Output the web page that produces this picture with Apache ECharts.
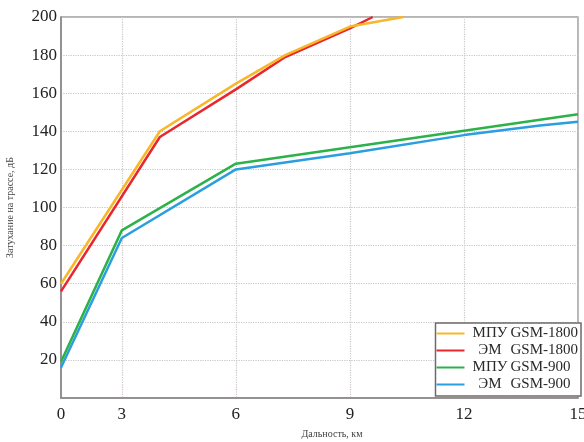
<!DOCTYPE html>
<html>
<head>
<meta charset="utf-8">
<script src="https://cdn.jsdelivr.net/npm/echarts@6/dist/echarts.min.js"></script>
<style>
  html, body { margin: 0; padding: 0; background: #fff; }
  #chart { width: 584px; height: 442px; }
</style>
</head>
<body>
<div id="chart"></div>
<script>
// дальность, км / затухание, дБ
const xTicks = [0, 3, 6, 9, 12, 15]
const yMax = 200

const mpu1800X = [0, 4, 6, 7.3, 9, 10.4]
const mpu1800Y = [60, 140, 165, 180, 195, 200]

const em1800X = [0, 4, 6, 7.3, 9, 9.6]
const em1800Y = [56, 137, 162, 179, 194, 200]

const mpu900X = [0, 3, 6, 15]
const mpu900Y = [19, 88, 123, 149]

const em900X = [0, 3, 6, 9, 12, 14, 15]
const em900Y = [16, 84, 120, 128.5, 138, 143, 145]

const seriesNames = ['МПУ GSM-1800', 'ЭМ GSM-1800', 'МПУ GSM-900', 'ЭМ GSM-900']
const seriesColors = ['#f8b62a', '#e8262b', '#2db24a', '#2a9ee0']

// на исходном графике отрезок 0..3 км сжат — повторяем это
const X0 = 1.4
function warp(km) {
  return km >= 3 ? km : X0 + km * (3 - X0) / 3
}
function pairs(xs, ys) {
  return xs.map((x, i) => [warp(x), ys[i]])
}

const allData = [
  pairs(mpu1800X, mpu1800Y),
  pairs(em1800X, em1800Y),
  pairs(mpu900X, mpu900Y),
  pairs(em900X, em900Y)
]

const serif = '"Liberation Serif", "DejaVu Serif", serif'
const tickPos = xTicks.map(warp)

const chart = echarts.init(document.getElementById('chart'))
chart.setOption({
  animation: false,
  color: seriesColors,
  grid: {
    left: 61, right: 6, top: 17, bottom: 44,
    outerBoundsMode: 'none',
    containLabel: false,
    show: true,
    borderColor: '#a09c9c',
    borderWidth: 1.5
  },
  legend: {
    orient: 'vertical',
    right: 3,
    bottom: 46,
    backgroundColor: '#fff',
    borderColor: '#6f6a6a',
    borderWidth: 1.5,
    borderRadius: 0,
    padding: [3, 3, 4, 1],
    itemGap: 2,
    itemWidth: 28,
    itemHeight: 15,
    data: seriesNames.map(n => ({ name: n, icon: 'path://M0,6L28,6L28,8L0,8Z' })),
    formatter: function (name) {
      const parts = name.split(' ')
      return '{a|' + parts[0] + '}{b|' + parts[1] + '}'
    },
    textStyle: {
      fontFamily: serif,
      fontSize: 15,
      color: '#2a2a2a',
      rich: {
        a: { width: 41, align: 'center', fontFamily: serif, fontSize: 15, color: '#2a2a2a' },
        b: { fontFamily: serif, fontSize: 15, color: '#2a2a2a' }
      }
    }
  },
  xAxis: {
    type: 'value',
    min: warp(0),
    max: warp(15),
    name: 'Дальность, км',
    nameLocation: 'middle',
    nameGap: 31,
    nameTextStyle: { fontFamily: serif, fontSize: 10, color: '#444', padding: [0, 0, 0, 25] },
    axisLine: { lineStyle: { color: '#8a8585', width: 1.5 } },
    axisTick: { show: false, customValues: tickPos },
    axisLabel: {
      customValues: tickPos,
      margin: 8,
      fontFamily: serif,
      fontSize: 17,
      color: '#222',
      formatter: v => String(xTicks[tickPos.indexOf(v)])
    },
    splitLine: { show: true, lineStyle: { color: '#c9c5c5', type: 'dotted', width: 1.2 } }
  },
  yAxis: {
    type: 'value',
    min: 0,
    max: yMax,
    interval: 20,
    name: 'Затухание на трассе, дБ',
    nameLocation: 'middle',
    nameGap: 46,
    nameTextStyle: { fontFamily: serif, fontSize: 10, color: '#444' },
    axisLine: { show: true, lineStyle: { color: '#8a8585', width: 1.5 } },
    axisTick: { show: false },
    axisLabel: {
      margin: 4,
      fontFamily: serif,
      fontSize: 17,
      color: '#222',
      formatter: v => (v === 0 ? '' : String(v))
    },
    splitLine: { show: true, lineStyle: { color: '#c9c5c5', type: 'dotted', width: 1.2 } }
  },
  series: seriesNames.map((n, i) => ({
    name: n,
    type: 'line',
    data: allData[i],
    symbol: 'none',
    lineStyle: { width: 2.5 },
    z: 10 - i
  }))
})
</script>
</body>
</html>
